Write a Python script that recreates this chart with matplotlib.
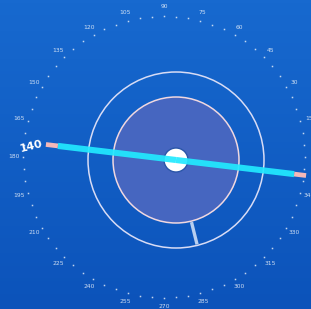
import matplotlib
matplotlib.use("Agg")
import matplotlib.pyplot as plt
from matplotlib.patches import Circle
import numpy as np

# compass scale data
dial_labels = list(range(0, 360, 15))
dial_dots = list(range(0, 360, 5))
pointer_value = 140
pointer_angle = 173.2      # direction of the labelled end, degrees
needle_angle = 284         # short bar between the two rings

# layout (pixel units)
W, H = 311, 309
dial_c = (164, 157)
dot_r, label_r = 141, 150
ring_c = (176, 160)
outer_r, inner_r, hub_r = 88, 63, 12
arm_len, cap_len = 131, 12

fig = plt.figure(figsize=(W / 100, H / 100), dpi=100)
ax = fig.add_axes([0, 0, 1, 1])
ax.set_xlim(0, W)
ax.set_ylim(H, 0)
ax.axis("off")

# background gradient
grad = np.linspace(0, 1, 100).reshape(-1, 1)
top = np.array([0x17, 0x69, 0xcf]) / 255
bot = np.array([0x0c, 0x53, 0xba]) / 255
img = top + (bot - top) * grad[..., None]
ax.imshow(np.repeat(img, 2, axis=1), extent=[0, W, H, 0], aspect="auto", zorder=0)

def pos(c, r, ang):
    a = np.radians(ang)
    return c[0] + r * np.cos(a), c[1] - r * np.sin(a)

# dial dots and labels
for d in dial_dots:
    x, y = pos(dial_c, dot_r, d)
    ax.plot(x, y, marker="s", ms=1.1, color="white", alpha=0.75, mew=0, zorder=2)
for d in dial_labels:
    x, y = pos(dial_c, label_r, d)
    ax.text(x, y, str(d), color="white", alpha=0.8, fontsize=4.3,
            ha="center", va="center", zorder=2)

# rings
ax.add_patch(Circle(ring_c, outer_r, fill=False, ec="#d8dcf5", lw=1.1, zorder=3))
ax.add_patch(Circle(ring_c, inner_r, fc="#4666c0", ec="#f0d8e0", lw=1.1, zorder=3))

# needle between rings
x0, y0 = pos(ring_c, inner_r + 1, needle_angle)
x1, y1 = pos(ring_c, outer_r - 1, needle_angle)
ax.plot([x0, x1], [y0, y1], color="#b8cff0", lw=2.4, solid_capstyle="butt", zorder=3)

# hub
ax.add_patch(Circle(ring_c, hub_r, fc="white", ec="#2a55a8", lw=1.0, zorder=4))

# pointer line
for ang in (pointer_angle, pointer_angle + 180):
    xa, ya = pos(ring_c, arm_len - cap_len, ang)
    xb, yb = pos(ring_c, arm_len, ang)
    ax.plot([ring_c[0], xa], [ring_c[1], ya], color="#22eaff", lw=4.4,
            solid_capstyle="butt", alpha=0.92, zorder=5)
    ax.plot([xa, xb], [ya, yb], color="#f4b8b8", lw=3.4,
            solid_capstyle="butt", zorder=5)

tx, ty = pos(ring_c, arm_len + 14, pointer_angle + 1.5)
ax.text(tx, ty, str(pointer_value), color="white", fontsize=8, fontweight="bold",
        rotation=14, ha="center", va="center", zorder=6)

fig.savefig("out.png", dpi=100)
